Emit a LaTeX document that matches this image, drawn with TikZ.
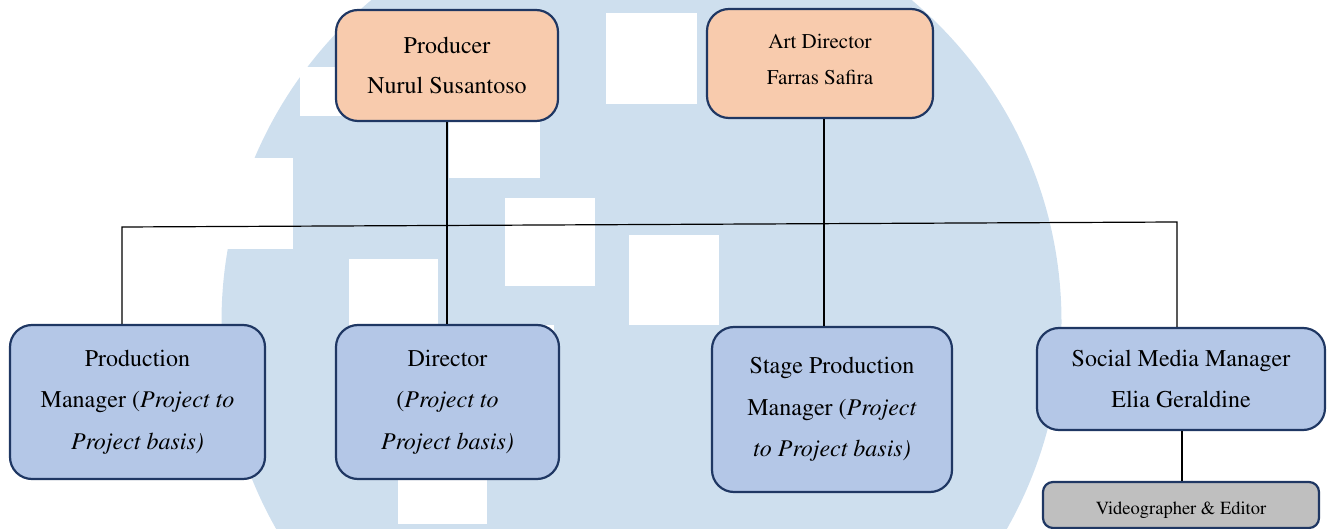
\documentclass[tikz,border=0pt]{standalone}
\usepackage[T1]{fontenc}
\usepackage{mathptmx}
\definecolor{wm}{HTML}{CEDFEE}
\definecolor{peach}{HTML}{F8CBAD}
\definecolor{lblue}{HTML}{B4C7E7}
\definecolor{lgrey}{HTML}{BFBFBF}
\definecolor{navy}{HTML}{1F3763}
\tikzset{
  orgbox/.style={draw=navy, line width=2.2pt, rounded corners=22pt, align=center, inner sep=0pt},
  topbox/.style={orgbox, fill=peach},
  lowbox/.style={orgbox, fill=lblue, font=\rmfamily\fontsize{24}{41.5}\selectfont},
  greybox/.style={orgbox, fill=lgrey, rounded corners=10pt, font=\rmfamily\fontsize{18.5}{22}\selectfont},
  conn/.style={draw=black, line width=1.2pt},
  wmrect/.style={fill=white}
}
\begin{document}
\begin{tikzpicture}[x=1pt,y=-1pt]
\useasboundingbox (0,0) rectangle (1330,529);
% watermark
\begin{scope}
  \clip (0,0) rectangle (1330,529);
  \fill[wm] (641.5,321.6) circle (420pt);
\end{scope}
\fill[wmrect] (300,67) rectangle (345,116);
\fill[wmrect] (190,158) rectangle (293,249);
\fill[wmrect] (606,13) rectangle (697,104);
\fill[wmrect] (449,100) rectangle (540,178);
\fill[wmrect] (505,198) rectangle (595,286);
\fill[wmrect] (629,235) rectangle (719,325);
\fill[wmrect] (349,259) rectangle (438,330);
\fill[wmrect] (464,325) rectangle (554,420);
\fill[wmrect] (398,440) rectangle (487,524);
% nodes
\node[topbox, minimum width=222pt, minimum height=111pt, font=\rmfamily\fontsize{24}{40}\selectfont]
  (prod) at (447,65.5) {Producer\\Nurul Susantoso};
\node[topbox, minimum width=226pt, minimum height=109pt, font=\rmfamily\fontsize{21}{36}\selectfont]
  (art) at (820,63.5) {\raisebox{4pt}[\height][\depth]{Art Director}\\\raisebox{4pt}[\height][\depth]{Farras Safira}};
\node[lowbox, minimum width=255pt, minimum height=154pt]
  (pm) at (137.5,402) {Production\\Manager (\textit{Project to}\\\textit{Project basis)}};
\node[lowbox, minimum width=223pt, minimum height=154pt]
  (dir) at (447.5,402) {Director\\(\textit{Project to}\\\textit{Project basis)}};
\node[lowbox, minimum width=240pt, minimum height=165pt]
  (stage) at (832,409.5) {Stage Production\\Manager (\textit{Project}\\\textit{to Project basis)}};
\node[lowbox, minimum width=288pt, minimum height=102pt, font=\rmfamily\fontsize{24}{41}\selectfont]
  (smm) at (1181,379) {Social Media Manager\\Elia Geraldine};
\node[greybox, minimum width=276pt, minimum height=46pt]
  (vid) at (1181,505) {\raisebox{-5pt}[\height][\depth]{Videographer \& Editor}};
% connectors
\coordinate (hl) at (122,227);
\coordinate (hr) at (1177,222);
\coordinate (ax) at (824,0);
\coordinate (vx) at (1182,0);
\draw[conn] (prod.south) -- (prod.south |- dir.north);
\draw[conn] (art.south -| ax) -- (stage.north -| ax);
\draw[conn] (pm.north -| hl) -- (hl) -- (hr) -- (smm.north -| hr);
\draw[conn] (smm.south -| vx) -- (vid.north -| vx);
\end{tikzpicture}
\end{document}
